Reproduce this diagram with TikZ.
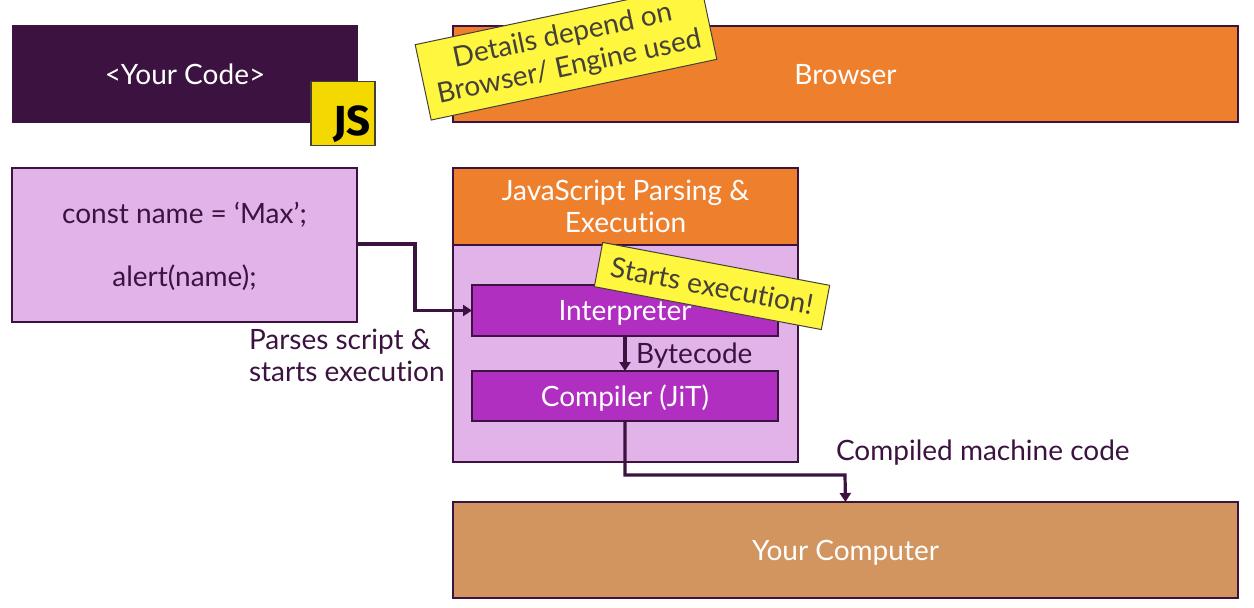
\documentclass[tikz,border=0pt]{standalone}
\usepackage{fontspec}
\usepackage{xcolor}
\setmainfont{Lato}[Ligatures=NoCommon]
\newfontfamily\badgefont{Fira Sans}
\definecolor{darkplum}{HTML}{3C1340}
\definecolor{codeorange}{HTML}{EE7F2D}
\definecolor{lightplum}{HTML}{E1B3E8}
\definecolor{vividplum}{HTML}{B02EC0}
\definecolor{machinebrown}{HTML}{D2955F}
\definecolor{noteyellow}{HTML}{FFF73F}
\definecolor{jsyellow}{HTML}{F3D900}
\definecolor{noteink}{HTML}{45403A}
\usetikzlibrary{positioning,arrows.meta}

\begin{document}
\begin{tikzpicture}[x=1pt,y=-1pt,>={Triangle[length=9pt,width=11pt]},font=\fontsize{28}{32}\selectfont,inner sep=0pt,outer sep=0pt,
    box/.style={draw=darkplum,line width=1.4pt,align=center,minimum width=#1},
    box/.default=345pt,
    oneline/.style={text height=20pt,text depth=0pt},
    link/.style={draw=darkplum,line width=3.2pt},
    note/.style={draw=noteink,line width=1pt,fill=noteyellow,text=noteink,align=center},
    lbl/.style={text=darkplum,align=left}]
    \useasboundingbox (0,0) rectangle (1254,608);
    \node[box,oneline,fill=darkplum,text=white,minimum height=96pt] (yourcode) at (185,74) {<Your Code>};
    \node[box=785pt,oneline,fill=codeorange,text=white,minimum height=96pt] (browser) at (845.5,74) {Browser};
    \node[box,fill=lightplum,text=darkplum,minimum height=154pt] (script) at (184.5,245) {\rule{0pt}{24pt}const name = ‘Max’;\\[31pt]alert(name);};
    \node[box,fill=codeorange,text=white,minimum height=77pt] (engine) at (625.5,206.5) {JavaScript Parsing \&\\Execution};
    \node[box,fill=lightplum,minimum height=217pt] (engbody) [below=0pt of engine] {};
    \node[box=306pt,oneline,fill=vividplum,text=white,minimum height=51pt] (interp) at (625,310.5) {Interpreter};
    \node[box=306pt,oneline,fill=vividplum,text=white,minimum height=50pt] (compiler) at (625,396) {Compiler (JiT)};
    \node[box=785pt,oneline,fill=machinebrown,text=white,minimum height=96pt] (computer) at (845.5,550) {Your Computer};
    \node[draw=noteink,line width=1.2pt,fill=jsyellow,minimum size=64pt] (badge) at (343,113.5) {};
    \node[anchor=south east,text=black,font=\badgefont\bfseries\fontsize{42}{42}\selectfont] (jslabel) at (371,143) {JS};
    \node[note,minimum width=292pt,minimum height=77pt,rotate=12] (detailsnote) at (566,52) {Details depend on\\Browser/ Engine used};
    \node[note,minimum width=231pt,minimum height=45pt,rotate=-10.7] (startsnote) at (712,286) {Starts execution!};
    \node[lbl,anchor=north west] (parses) at (249,329) {Parses script \&\\starts execution};
    \node[lbl,anchor=west] (bytecode) at (636,356) {Bytecode};
    \node[lbl,anchor=west] (machine) at (836,453) {Compiled machine code};
    \coordinate (bendin) at (415,244);
    \coordinate (bendout) at (845,475);
    \path[link,->] (script.east |- bendin) -- (bendin) |- (interp.west);
    \path[link,->] (interp.south) -- (compiler.north);
    \path[link,->] (compiler.south) |- (bendout) -- (computer.north);
\end{tikzpicture}
\end{document}
